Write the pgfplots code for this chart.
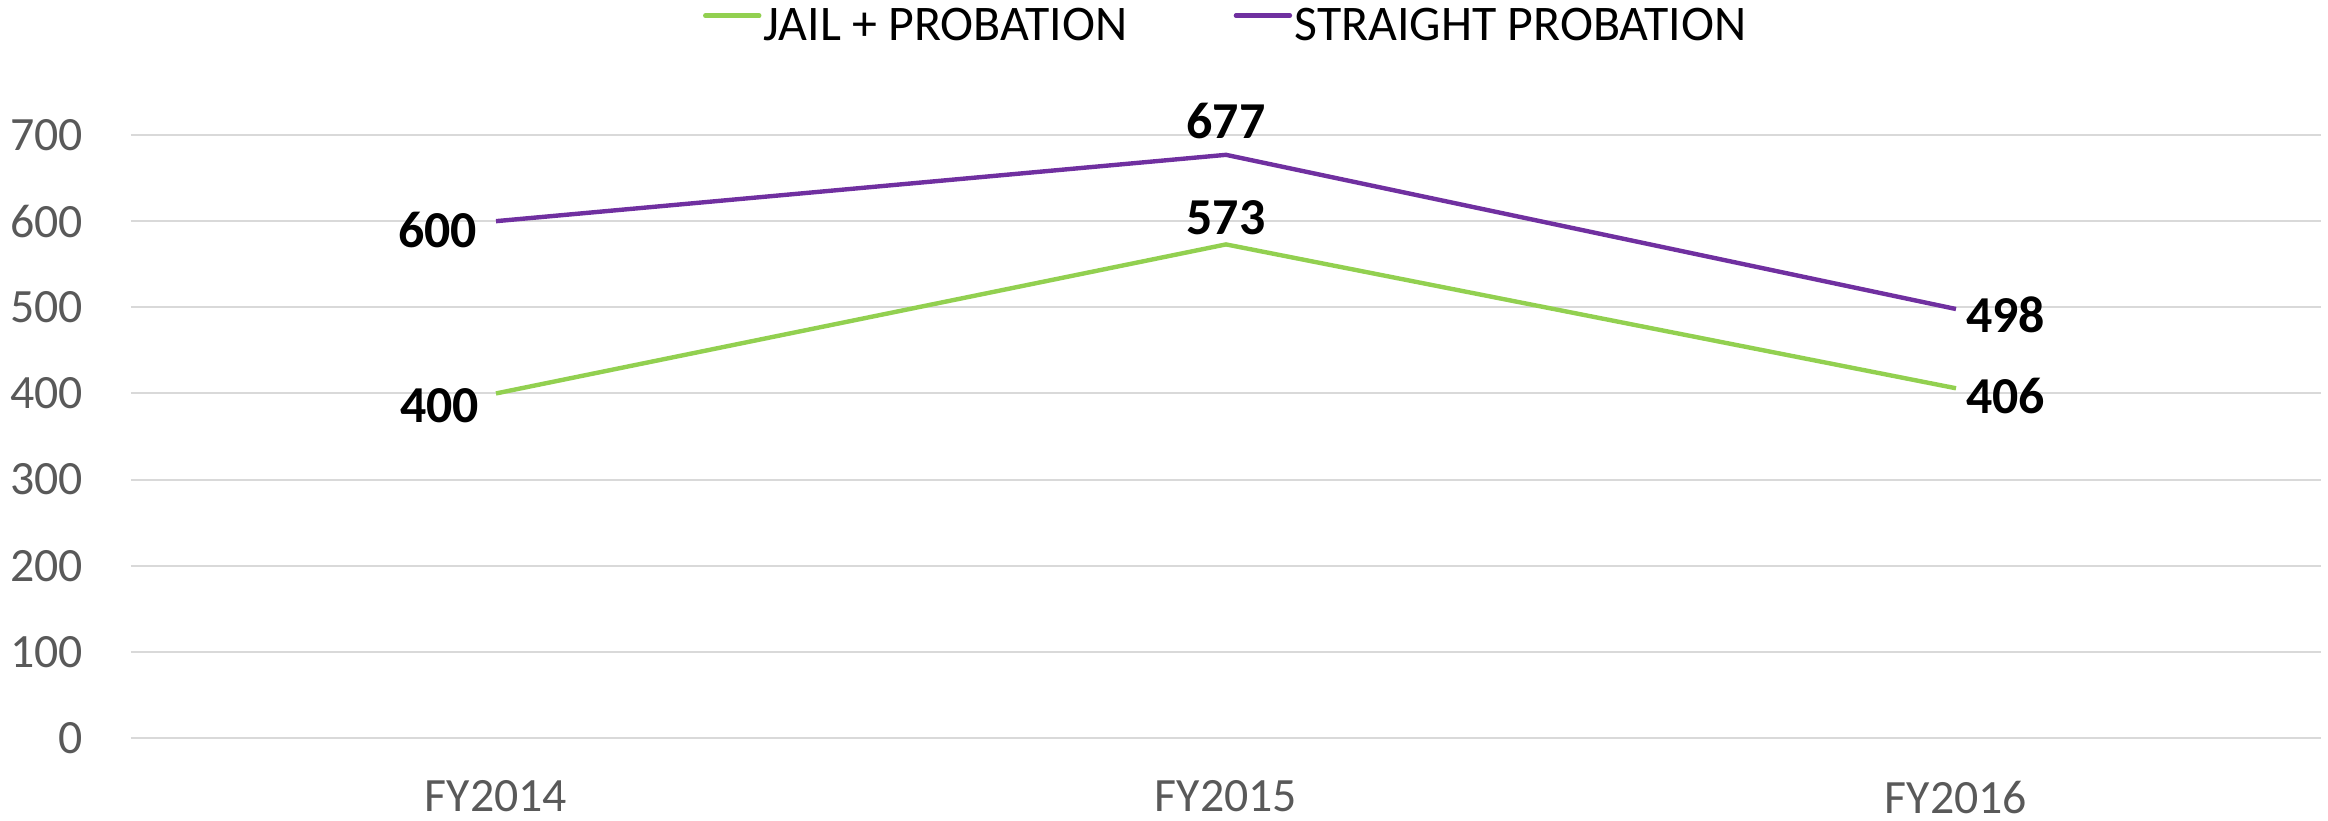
\documentclass[border=0pt]{standalone}
\usepackage{fontspec}
\setmainfont{Carlito}
\usepackage{pgfplots}
\usepackage{pgfplotstable}
\pgfplotsset{compat=1.18}
\definecolor{jailgreen}{HTML}{92D050}
\definecolor{strpurple}{HTML}{7030A0}
\definecolor{gridgray}{HTML}{D9D9D9}
\definecolor{ticktext}{HTML}{595959}

\pgfplotstableread{
x y
0 400
1 573
2 406
}\jail
\pgfplotstableread{
x y
0 600
1 677
2 498
}\straight

\pgfplotsset{mylabels/.style={
  nodes near coords={\pgfmathprintnumber{\pgfplotspointmeta}},
  point meta=y,
  nodes near coords style={font=\bfseries\fontsize{13}{15}\selectfont, text=black, inner sep=0pt},
}}

\begin{document}
\begin{tikzpicture}
\begin{axis}[
  at={(0,0)}, anchor=south west,
  scale only axis, width=547.5bp, height=150.75bp,
  xmin=-0.5, xmax=2.5, ymin=0, ymax=700,
  ytick={0,100,...,700},
  xtick={0,1,2}, xticklabels={FY2014,FY2015,FY2016},
  axis line style={draw=none}, major tick length=0pt,
  ymajorgrids, grid style={gridgray, line width=0.5bp},
  tick label style={font=\fontsize{12}{14}\selectfont, text=ticktext, inner sep=0pt},
  yticklabel style={anchor=east, xshift=-11.75bp},
  xticklabel style={anchor=north, yshift=-10.5bp},
  /pgf/number format/assume math mode=true,
  legend style={at={(0.5,1)}, anchor=center, yshift=27bp, draw=none, fill=none,
    font=\fontsize{12.5}{14}\selectfont, inner sep=0pt,
    nodes={inner sep=0.6bp},
    /tikz/every odd column/.append style={column sep=0bp},
    /tikz/every even column/.append style={column sep=26bp}},
  legend columns=2,
  legend image code/.code={\draw[#1, line width=1.1bp, line cap=round] (0bp,0.6ex) -- (13.5bp,0.6ex);},
]
\addplot[jailgreen, line width=1.1bp, mark=none, mylabels,
  coordinate style/.condition={\coordindex==0}{anchor=east, xshift=-3.75bp, yshift=-3bp},
  coordinate style/.condition={\coordindex==1}{anchor=south, yshift=1.75bp},
  coordinate style/.condition={\coordindex==2}{anchor=west, xshift=2bp, yshift=-2bp},
] table[x=x, y=y] {\jail};
\addlegendentry{JAIL + PROBATION}
\addplot[strpurple, line width=1.1bp, mark=none, mylabels,
  coordinate style/.condition={\coordindex==0}{anchor=east, xshift=-4.25bp, yshift=-2.25bp},
  coordinate style/.condition={\coordindex==1}{anchor=south, yshift=3.5bp},
  coordinate style/.condition={\coordindex==2}{anchor=west, xshift=2bp, yshift=-1.5bp},
] table[x=x, y=y] {\straight};
\addlegendentry{STRAIGHT PROBATION}
\end{axis}
\path[use as bounding box] (-32.75bp,-20.75bp) rectangle (549.25bp,184.5bp);
\end{tikzpicture}
\end{document}
